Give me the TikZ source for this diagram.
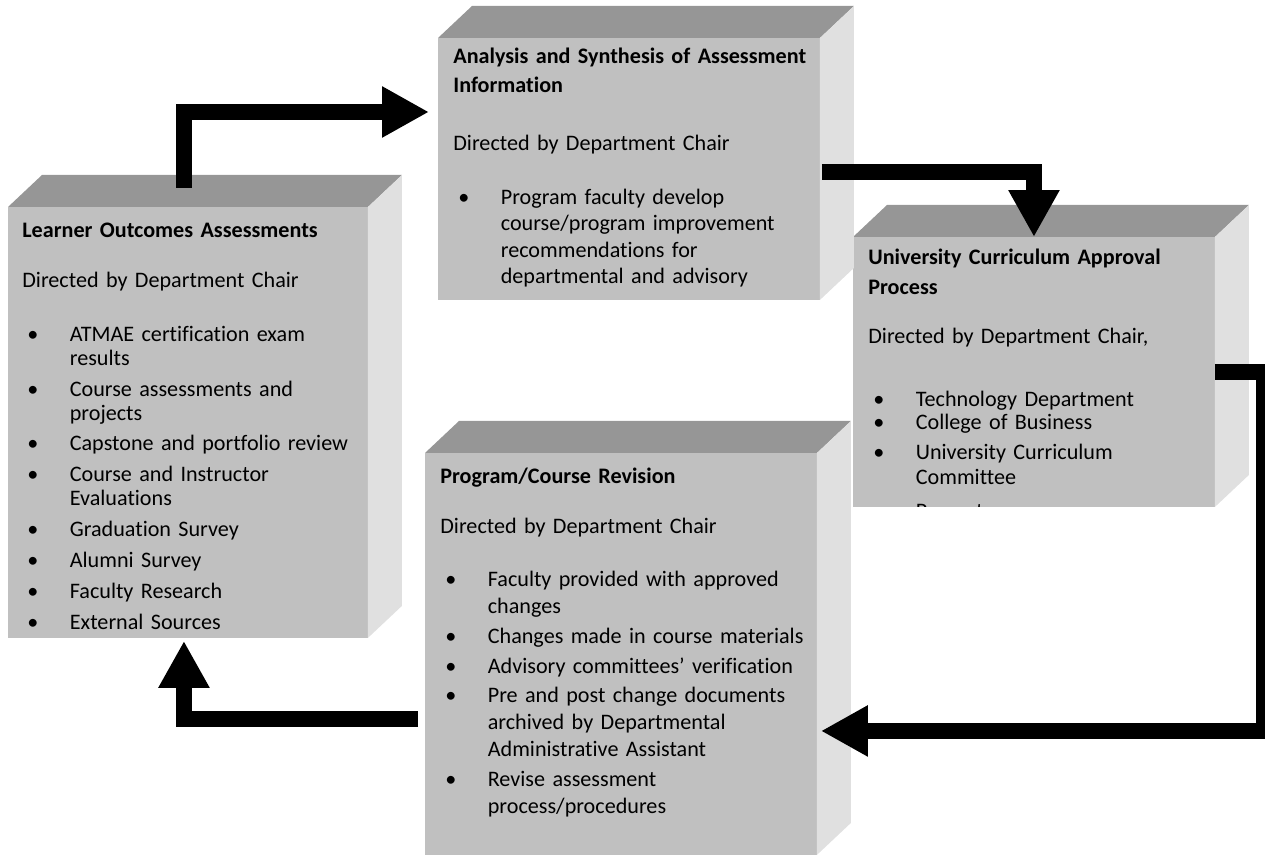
\documentclass[tikz,border=0pt]{standalone}
\usepackage{fontspec}
\setmainfont{Carlito}[Ligatures=NoCommon]
\usepackage{xcolor}
\usetikzlibrary{arrows.meta, calc}
\definecolor{frontgray}{RGB}{192,192,192}
\definecolor{topgray}{RGB}{150,150,150}
\definecolor{sidegray}{RGB}{224,224,224}
\tikzstyle{frontface} = [rectangle, fill=frontgray, anchor=north west, inner sep=0pt, outer sep=0pt]
\tikzstyle{topface} = [fill=topgray]
\tikzstyle{sideface} = [fill=sidegray]
\tikzstyle{boxtext} = [anchor=base west, inner sep=0pt, text width=7.6cm, align=left]
\tikzstyle{bigarrow} = [line width=0.32cm, -{Triangle[length=0.94cm, width=0.96cm]}]
\newcommand{\bitem}{\makebox[0.95cm][l]{\hspace{0.1cm}\textbullet}}
\newcommand{\bcont}{\hspace*{0.95cm}}
% front face as a node, top and side faces hung on its corners
\newcommand{\cuboid}[4]{%
  \node[frontface, minimum width=#3, minimum height=#4] (#1) at #2 {};
  \fill[topface] (#1.north west) -- ++(34,-32) -- ($(#1.north east)+(34,-32)$) -- (#1.north east) -- cycle;
  \fill[sideface] (#1.north east) -- ++(34,-32) -- ($(#1.south east)+(34,-32)$) -- (#1.south east) -- cycle;}

\begin{document}
\begin{tikzpicture}[x=0.02cm, y=-0.02cm]
  \useasboundingbox (0,0) rectangle (1265,857);
  \clip (0,0) rectangle (1265,857);

  % Boxes
  \cuboid{learner}{(8,207)}{7.2cm}{8.62cm}
  \cuboid{approval}{(853,237)}{7.24cm}{5.4cm}
  \cuboid{analysis}{(438,38)}{7.64cm}{5.24cm}
  \cuboid{revision}{(425,453)}{7.84cm}{8.04cm}

  % Box texts
  \node[boxtext, font={\fontsize{12.6pt}{13.6pt}\selectfont}] (learnertxt) at (22,238)
    {\textbf{Learner Outcomes Assessments}\\[14.6pt]
     Directed by Department Chair\\[17pt]
     \bitem ATMAE certification exam\\
     \bcont results\\[4pt]
     \bitem Course assessments and\\
     \bcont projects\\[4pt]
     \bitem Capstone and portfolio review\\[4pt]
     \bitem Course and Instructor\\
     \bcont Evaluations\\[4pt]
     \bitem Graduation Survey\\[4pt]
     \bitem Alumni Survey\\[4pt]
     \bitem Faculty Research\\[4pt]
     \bitem External Sources};

  \node[boxtext, font={\fontsize{12.6pt}{15pt}\selectfont}] (analysistxt) at (453,64)
    {\textbf{Analysis and Synthesis of Assessment}\\[1.4pt]
     \textbf{Information}\\[17.9pt]
     Directed by Department Chair\\[15.6pt]
     \bitem Program faculty develop\\
     \bcont course/program improvement\\
     \bcont recommendations for\\
     \bcont departmental and advisory};

  \begin{scope}
    \clip (approval.north west) rectangle (approval.south east);
    \node[boxtext, font={\fontsize{12.6pt}{14.7pt}\selectfont}] (approvaltxt) at (868,265)
      {\textbf{University Curriculum Approval}\\[2.3pt]
       \textbf{Process}\\[13.1pt]
       Directed by Department Chair,\\[21pt]
       \bitem Technology Department\\[-1.7pt]
       \bitem College of Business\\[2.3pt]
       \bitem University Curriculum\\
       \bcont Committee\\[4.6pt]
       \bitem Provost};
  \end{scope}

  \node[boxtext, font={\fontsize{12.6pt}{15.3pt}\selectfont}] (revisiontxt) at (440,484)
    {\textbf{Program/Course Revision}\\[13pt]
     Directed by Department Chair\\[14.7pt]
     \bitem Faculty provided with approved\\
     \bcont changes\\[1.7pt]
     \bitem Changes made in course materials\\[1.7pt]
     \bitem Advisory committees’ verification\\[1.7pt]
     \bitem Pre and post change documents\\
     \bcont archived by Departmental\\
     \bcont Administrative Assistant\\[1.7pt]
     \bitem Revise assessment\\
     \bcont process/procedures};

  % Arrows
  \coordinate (a1s) at ($(learner.north)+(-4,-19)$);
  \coordinate (a1e) at ($(analysis.north west)+(-9,74)$);
  \coordinate (a2s) at ($(analysis.east)+(2,3)$);
  \coordinate (a3e) at ($(revision.east)+(4,77)$);
  \coordinate (a4s) at ($(revision.west)+(-7,65)$);
  \coordinate (a4e) at ($(learner.south)+(-4,3)$);

  \draw[bigarrow] (a1s) |- (a1e);
  \draw[bigarrow] (a2s) -| (approval.north);
  \draw[bigarrow] (approval.east) -- ++(49,0) |- (a3e);
  \draw[bigarrow] (a4s) -| (a4e);
\end{tikzpicture}
\end{document}
